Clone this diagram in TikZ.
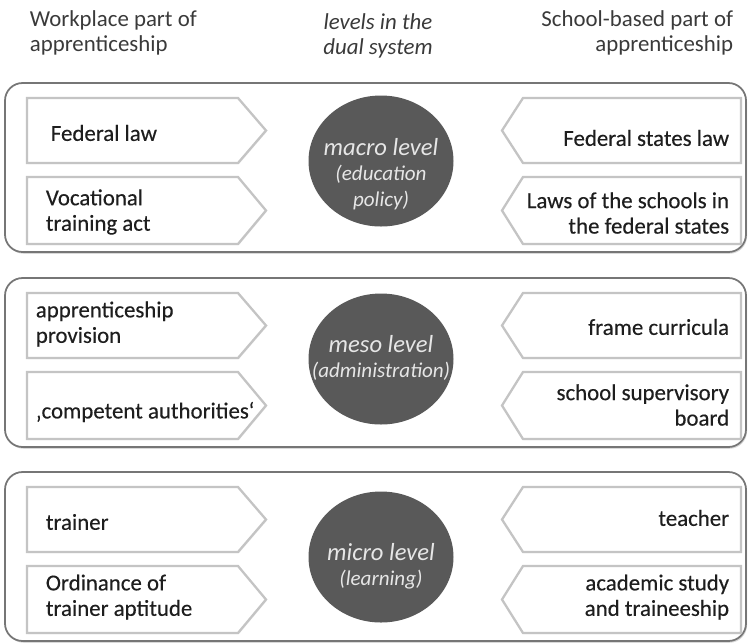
\documentclass[tikz,border=0pt]{standalone}
\usepackage{fontspec}
\setmainfont{Carlito}
\newfontfamily\tabfont[FakeBold=0.3]{Carlito}
\usetikzlibrary{shapes.geometric, shadows}
\definecolor{cframe}{HTML}{767676}
\definecolor{ctab}{HTML}{C4C4C4}
\definecolor{clevel}{HTML}{595959}
\definecolor{clevtext}{HTML}{E6E6E6}
\definecolor{ctext}{HTML}{1E1E1E}
\definecolor{chead}{HTML}{3A3A3A}
\tikzset{
  every picture/.style={line width=1pt},
  band/.style={draw=cframe, fill=white, rounded corners=10pt,
    drop shadow={shadow xshift=0.6pt, shadow yshift=-1pt, opacity=0.3}},
  tab/.style={draw=ctab, fill=white, line width=1.3pt, line join=miter,
    drop shadow={shadow xshift=0.5pt, shadow yshift=-0.7pt, opacity=0.12}},
  tabtext/.style={font=\tabfont\fontsize{13}{14.5}\selectfont, text=ctext, inner sep=0pt},
  head/.style={font=\fontsize{13}{14.5}\selectfont, text=chead, inner sep=0pt},
  level/.style={ellipse, fill=clevel, minimum width=2.9cm, minimum height=2.62cm, inner sep=0pt},
  leveltext/.style={text=clevtext, align=center, inner sep=0pt, font=\itshape\fontsize{12}{14.5}\selectfont},
}

\begin{document}
\begin{tikzpicture}
  \useasboundingbox (0,0) rectangle (15,-12.86);
  % column headings
  \node[head, anchor=west, align=left] (work) at (0.58,-0.66) {Workplace part of\\apprenticeship};
  \node[head, align=center, font=\itshape\fontsize{13}{14.5}\selectfont] (levels) at (7.56,-0.72) {levels in the\\dual system};
  \node[head, anchor=east, align=right] (school) at (14.68,-0.66) {School-based part of\\apprenticeship};
  % one band per level, two tabs on each side
  \foreach \n/\t in {macro/-1.66, meso/-5.56, micro/-9.44} {
    \draw[band] (0.1,\t) rectangle (14.92,\t-3.38);
    \foreach \a/\b in {0.30/1.60, 1.88/3.22} {
      \draw[tab] (0.54,\t-\a) -- (4.76,\t-\a) -- (5.32,\t-\a/2-\b/2) -- (4.76,\t-\b) -- (0.54,\t-\b) -- cycle;
      \draw[tab] (14.82,\t-\a) -- (10.46,\t-\a) -- (10.04,\t-\a/2-\b/2) -- (10.46,\t-\b) -- (14.82,\t-\b) -- cycle;
    }
  }
  % the levels
  \node[level] (macro) at (7.62,-3.22) {};
  \node[level] (meso) at (7.62,-7.18) {};
  \node[level] (micro) at (7.62,-11.14) {};
  \node[leveltext] (macroT) at ([yshift=-0.26cm]macro.center) {{\fontsize{14}{15}\selectfont macro level}\\(education\\policy)};
  \node[leveltext] (mesoT) at ([yshift=0.02cm]meso.center) {{\fontsize{14}{15}\selectfont meso level}\\(administration)};
  \node[leveltext] (microT) at ([yshift=-0.18cm]micro.center) {{\fontsize{14}{15}\selectfont micro level}\\(learning)};
  % workplace side
  \foreach \n/\x/\y/\s in {macroL1/1.0/-2.66/{Federal law}, macroL2/0.9/-4.24/{Vocational\\training act},
                          mesoL1/0.7/-6.48/{apprenticeship\\provision}, mesoL2/0.7/-8.24/{‚competent authorities‘},
                          microL1/0.9/-10.44/{trainer}, microL2/0.9/-11.94/{Ordinance of\\trainer aptitude}} {
    \node[tabtext, anchor=west, align=left] (\n) at (\x,\y) {\s};
  }
  % school side
  \foreach \n/\y/\s in {macroR1/-2.76/{Federal states law}, macroR2/-4.26/{Laws of the schools in\\the federal states},
                       mesoR1/-6.54/{frame curricula}, mesoR2/-8.10/{school supervisory\\board},
                       microR1/-10.36/{teacher}, microR2/-11.94/{academic study\\and traineeship}} {
    \node[tabtext, anchor=east, align=right] (\n) at (14.6,\y) {\s};
  }
\end{tikzpicture}
\end{document}
